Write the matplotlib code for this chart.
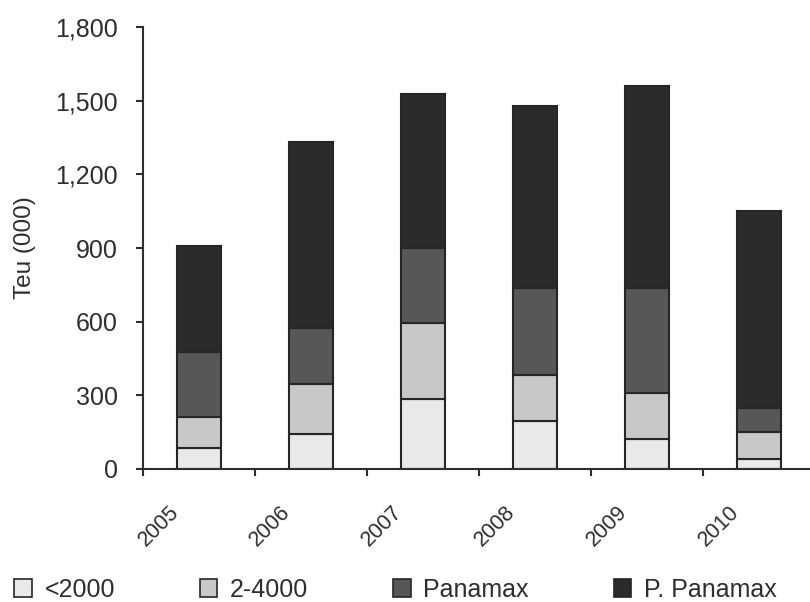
import matplotlib.pyplot as plt
from matplotlib.patches import Patch

plt.rcParams["font.family"] = ["Liberation Sans", "DejaVu Sans"]

# Container throughput by vessel size class, thousand TEU
years = ["2005", "2006", "2007", "2008", "2009", "2010"]
under_2000 = [87, 141, 284, 195, 121, 40]
teu_2_4000 = [126, 205, 309, 188, 187, 112]
panamax = [265, 229, 308, 355, 428, 98]
post_panamax = [431, 758, 625, 741, 825, 800]

series = [
    ("<2000", under_2000, "#e9e9e9"),
    ("2-4000", teu_2_4000, "#c8c8c8"),
    ("Panamax", panamax, "#575757"),
    ("P. Panamax", post_panamax, "#2b2b2b"),
]
ink = "#2e2e2e"
edge = "#262626"

fig = plt.figure(figsize=(8.1, 6.02), dpi=100)
ax = fig.add_axes([143 / 810, 1 - 469 / 602, 672 / 810, 442 / 602])

x = list(range(len(years)))
bottom = [0] * len(years)
for label, vals, color in series:
    ax.bar(x, vals, width=0.4, bottom=bottom, color=color,
           edgecolor=edge, linewidth=1.5, label=label)
    bottom = [b + v for b, v in zip(bottom, vals)]

ax.set_xlim(-0.5, 5.5)
ax.set_ylim(0, 1800)
ax.set_yticks(range(0, 1801, 300))
ax.set_yticklabels([f"{v:,}" for v in range(0, 1801, 300)])
ax.set_xticks([i - 0.5 for i in range(len(years))])
ax.set_xticklabels([])

for s in ["top", "right"]:
    ax.spines[s].set_visible(False)
for s in ["left", "bottom"]:
    ax.spines[s].set_color(ink)
    ax.spines[s].set_linewidth(1.5)
ax.tick_params(axis="both", colors=ink, width=1.5, length=5, direction="out")
ax.tick_params(axis="y", labelsize=18, pad=13, labelcolor=ink)

for i, yr in enumerate(years):
    ax.annotate(yr, xy=(i, 0), xytext=(-16, -33), textcoords="offset pixels",
                rotation=45, ha="right", va="top", fontsize=15.5, color=ink,
                annotation_clip=False)

ax.set_ylabel("Teu (000)", fontsize=17.5, color=ink, labelpad=14)

handles = [Patch(facecolor=c, edgecolor=edge, linewidth=1.2) for _, _, c in series]
fig.legend(handles, [s[0] for s in series], loc="center left",
           bbox_to_anchor=(-0.01, 0.02), ncol=4, frameon=False, fontsize=18,
           handlelength=0.7, handleheight=0.7, handletextpad=0.5,
           columnspacing=3.4, labelcolor=ink)

fig.savefig("out.png", dpi=100)
